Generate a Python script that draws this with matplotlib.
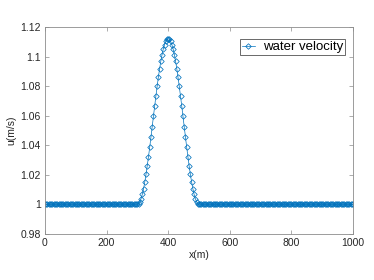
import numpy as np
import matplotlib
matplotlib.use("Agg")
import matplotlib.pyplot as plt

# x grid (m), 4 m spacing
x_left = list(range(0, 300, 4))
x_bump = list(range(300, 504, 4))
x_right = list(range(504, 1004, 4))

u_left = [1.0] * len(x_left)
u_bump = [1.0000, 1.0004, 1.0018, 1.0039, 1.0069, 1.0107, 1.0152, 1.0203, 1.0260,
          1.0322, 1.0387, 1.0455, 1.0525, 1.0595, 1.0665, 1.0733, 1.0798, 1.0860,
          1.0917, 1.0968, 1.1013, 1.1051, 1.1081, 1.1102, 1.1116, 1.1120,
          1.1116, 1.1102, 1.1081, 1.1051, 1.1013, 1.0968, 1.0917, 1.0860, 1.0798,
          1.0733, 1.0665, 1.0595, 1.0525, 1.0455, 1.0387, 1.0322, 1.0260, 1.0203,
          1.0152, 1.0107, 1.0069, 1.0039, 1.0018, 1.0004, 1.0000]
u_right = [1.0] * len(x_right)

x = x_left + x_bump + x_right
u = u_left + u_bump + u_right

xticks = [0, 200, 400, 600, 800, 1000]
yticks = [0.98, 1.0, 1.02, 1.04, 1.06, 1.08, 1.1, 1.12]
yticklabels = ["0.98", "1", "1.02", "1.04", "1.06", "1.08", "1.1", "1.12"]

plt.rcParams['font.family'] = ['Liberation Sans', 'DejaVu Sans']
blue = '#0072BD'
txt = '#262626'
gray = '#8c8c8c'

fig = plt.figure(figsize=(3.74, 2.8), dpi=100)
ax = fig.add_axes([45/374, 1 - 234/280, (353-45)/374, (234-27)/280])
ax.plot(x, u, color=blue, lw=0.5, marker='D', markersize=2.8,
        markerfacecolor='none', markeredgecolor=blue, markeredgewidth=0.55,
        label='water velocity')
ax.set_xlim(0, 1000)
ax.set_ylim(0.98, 1.12)
ax.set_xticks(xticks)
ax.set_xticklabels([str(t) for t in xticks])
ax.set_yticks(yticks)
ax.set_yticklabels(yticklabels)
ax.tick_params(direction='in', top=True, right=True, length=3, width=0.5,
               colors=gray, labelcolor=txt, labelsize=7.5, pad=3)
for s in ax.spines.values():
    s.set_color(gray)
    s.set_linewidth(0.6)
ax.set_xlabel('x(m)', fontsize=7.5, color=txt, labelpad=1)
ax.set_ylabel('u(m/s)', fontsize=7.5, color=txt, labelpad=3)
leg = ax.legend(loc='upper right', fontsize=9.5, frameon=True, fancybox=False,
                borderpad=0.15, handlelength=1.0, handletextpad=0.6,
                borderaxespad=0, bbox_to_anchor=(345/374, 1 - 39/280),
                bbox_transform=fig.transFigure)
leg.get_frame().set_edgecolor(txt)
leg.get_frame().set_linewidth(0.6)
for t in leg.get_texts():
    t.set_color('black')
fig.savefig('out.png', dpi=100)
